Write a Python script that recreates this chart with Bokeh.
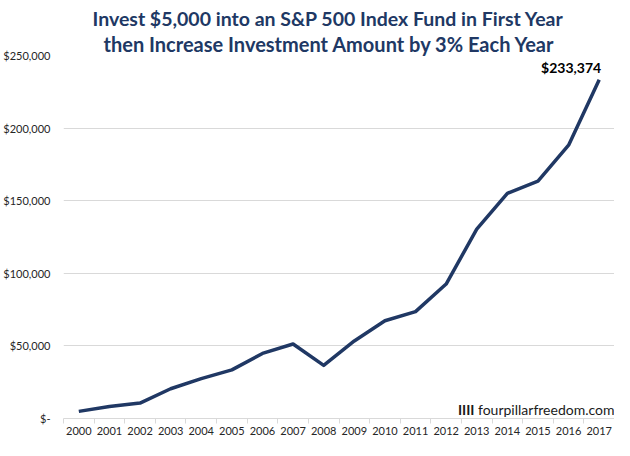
from bokeh.plotting import figure
from bokeh.models import Range1d, FixedTicker, Title, Label
from bokeh.embed import file_html
from bokeh.resources import INLINE

years = [2000, 2001, 2002, 2003, 2004, 2005, 2006, 2007, 2008,
         2009, 2010, 2011, 2012, 2013, 2014, 2015, 2016, 2017]
values = [4900, 8200, 10600, 20500, 27500, 33500, 44800, 51300, 36600,
          53400, 67300, 73600, 92600, 130400, 155100, 163500, 188200, 233374]
y_ticks = [0, 50000, 100000, 150000, 200000, 250000]
y_tick_labels = ["$-", "$50,000", "$100,000", "$150,000", "$200,000", "$250,000"]
title_line1 = "Invest $5,000 into an S&P 500 Index Fund in First Year"
title_line2 = "then Increase Investment Amount by 3% Each Year"
end_label = "$233,374"
watermark_mark = "IIII"
watermark_text = "fourpillarfreedom.com"

NAVY = "#203864"
FONT = "Lato"
GRID = "#D9D9D9"

p = figure(width=614, height=440, output_backend="svg", toolbar_location=None,
           x_range=Range1d(years[0] - 0.5, years[-1] + 0.5),
           y_range=Range1d(y_ticks[0], y_ticks[-1]),
           min_border_left=63, min_border_right=0, min_border_top=55,
           min_border_bottom=22)

p.line(years, values, line_color=NAVY, line_width=3.5, line_join="round")

# titles (later-added titles sit closer to the plot)
p.title.text = title_line1
p.title.align = "left"
p.title.text_font = FONT
p.title.text_font_size = "19.5px"
p.title.text_font_style = "bold"
p.title.text_color = NAVY
p.title.standoff = 0
p.title.offset = 29
t2 = Title(text=title_line2, align="left", text_font=FONT, text_font_size="20px",
           text_font_style="bold", text_color=NAVY, standoff=0, offset=40)
p.add_layout(t2, "above")

# x axis
minor = [y - 0.5 for y in years] + [years[-1] + 0.5]
p.xaxis.ticker = FixedTicker(ticks=years, minor_ticks=minor)
p.xaxis.major_label_overrides = {y: str(y) for y in years}
p.xaxis.major_tick_line_color = None
p.xaxis.major_tick_out = 0
p.xaxis.major_tick_in = 0
p.xaxis.minor_tick_line_color = GRID
p.xaxis.minor_tick_out = 5
p.xaxis.minor_tick_in = 0
p.xaxis.axis_line_color = GRID
p.xaxis.major_label_text_font = FONT
p.xaxis.major_label_text_font_size = "11px"
p.xaxis.major_label_text_color = "#262626"
p.xaxis.major_label_standoff = 3

# y axis
p.yaxis.ticker = FixedTicker(ticks=y_ticks)
p.yaxis.major_label_overrides = dict(zip(y_ticks, y_tick_labels))
p.yaxis.axis_line_color = None
p.yaxis.major_tick_line_color = None
p.yaxis.minor_tick_line_color = None
p.yaxis.major_tick_out = 0
p.yaxis.major_tick_in = 0
p.yaxis.major_label_standoff = 13
p.yaxis.major_label_text_font = FONT
p.yaxis.major_label_text_font_size = "11px"
p.yaxis.major_label_text_color = "#262626"

p.xgrid.grid_line_color = None
p.ygrid.grid_line_color = GRID
p.outline_line_color = None

# end value label
p.add_layout(Label(x=years[-1], y=values[-1], text=end_label, text_align="right",
                   text_baseline="bottom", x_offset=2, y_offset=4, text_font=FONT,
                   text_font_size="14px", text_font_style="bold", text_color="#000000"))

# watermark
p.add_layout(Label(x=years[-1] + 0.5, y=y_ticks[0], text=watermark_text, text_align="right",
                   text_baseline="bottom", x_offset=0, y_offset=1, text_font=FONT,
                   text_font_size="14px", text_color="#1a1a1a"))
p.add_layout(Label(x=years[-1] + 0.5, y=y_ticks[0], text=watermark_mark, text_align="right",
                   text_baseline="bottom", x_offset=-140, y_offset=1, text_font=FONT,
                   text_font_size="14px", text_font_style="bold", text_color="#1a1a1a"))

open("out.html", "w").write(file_html(p, INLINE))
